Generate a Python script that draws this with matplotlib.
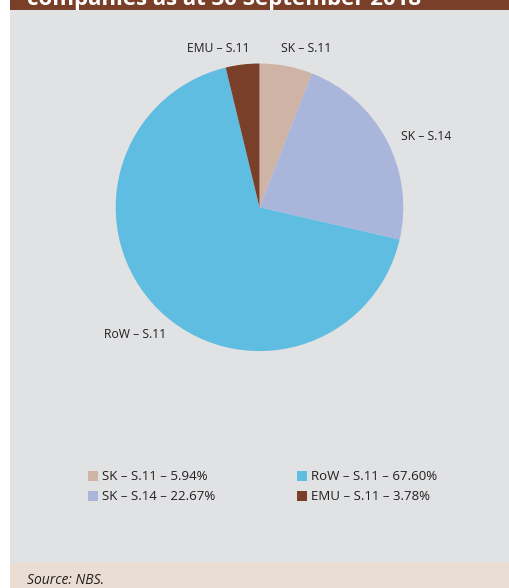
import matplotlib
matplotlib.use("Agg")
import matplotlib.pyplot as plt
from matplotlib.patches import Rectangle

plt.rcParams['font.family'] = ['Open Sans', 'DejaVu Sans']

# data
labels = ["SK \u2013 S.11", "SK \u2013 S.14", "RoW \u2013 S.11", "EMU \u2013 S.11"]
shares = [5.94, 22.67, 67.60, 3.78]
colors = ["#CFB4A5", "#A9B5DA", "#60BDE2", "#7A3F28"]
title = "companies as at 30 September 2018"
source = "Source: NBS."

W, H = 510, 588
fig = plt.figure(figsize=(W / 100, H / 100), dpi=100)
fig.patch.set_facecolor("white")

def px(x0, y0, x1, y1):
    # pixel box (top-left origin) -> figure fraction rect
    return [x0 / W, 1 - y1 / H, (x1 - x0) / W, (y1 - y0) / H]

# background panels
for (x0, y0, x1, y1), c in [((10, 0, 510, 10), "#7A3F28"),
                            ((10, 10, 510, 562), "#E1E2E4"),
                            ((10, 562, 510, 588), "#EADDD3")]:
    r = px(x0, y0, x1, y1)
    fig.patches.append(Rectangle((r[0], r[1]), r[2], r[3], transform=fig.transFigure,
                                 facecolor=c, edgecolor="none", zorder=-5))

# title, cut off at the top like in the report page
fig.text(27 / W, 1 - 4.5 / H, title, color="white", fontsize=16, fontweight="bold",
         ha="left", va="baseline")

# pie
cx, cy, rad = 259.5, 207.3, 143.8
ax = fig.add_axes(px(cx - rad, cy - rad, cx + rad, cy + rad))
ax.set_zorder(1)
ax.patch.set_alpha(0)
ax.pie(shares, colors=colors, startangle=90, counterclock=False, radius=1,
       wedgeprops=dict(linewidth=0))
ax.set_xlim(-1, 1)
ax.set_ylim(-1, 1)
ax.set_aspect("equal")
ax.axis("off")

# slice labels
label_pos = {"EMU \u2013 S.11": (218, 48), "SK \u2013 S.11": (306, 48),
             "SK \u2013 S.14": (426, 137), "RoW \u2013 S.11": (135, 335)}
for name, (lx, ly) in label_pos.items():
    ax.text((lx - cx) / rad, (cy - ly) / rad, name, ha="center", va="center",
            fontsize=8.7, color="#231F20", clip_on=False)

# legend
leg_xy = [(88, 476), (88, 496), (297, 476), (297, 496)]
for i, (sx, sy) in enumerate(leg_xy):
    fig.patches.append(Rectangle((sx / W, 1 - (sy + 5) / H), 10 / W, 10 / H,
                                 transform=fig.transFigure, facecolor=colors[i],
                                 edgecolor="none", zorder=2))
    fig.text((sx + 14) / W, 1 - sy / H, "%s \u2013 %.2f%%" % (labels[i], shares[i]),
             ha="left", va="center", fontsize=9.5, color="#231F20")

fig.text(27 / W, 1 - 580 / H, source, ha="left", va="center", fontsize=10,
         style="italic", color="#231F20")

fig.savefig("out.png", dpi=100)
